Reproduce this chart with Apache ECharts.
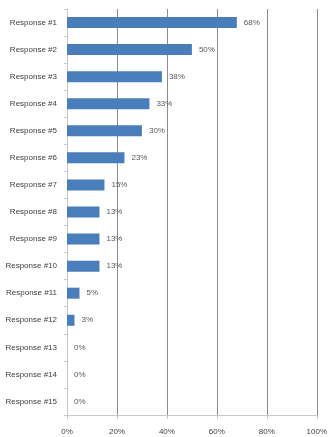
<!DOCTYPE html>
<html>
<head>
<meta charset="utf-8">
<script src="https://cdn.jsdelivr.net/npm/echarts@6/dist/echarts.min.js"></script>
<style>
  html, body { margin: 0; padding: 0; background: #fff; }
  #chart { width: 330px; height: 437px; }
</style>
</head>
<body>
<div id="chart"></div>
<script>
// Share of answers per response, in percent
const categories = [
  'Response #1', 'Response #2', 'Response #3', 'Response #4', 'Response #5',
  'Response #6', 'Response #7', 'Response #8', 'Response #9', 'Response #10',
  'Response #11', 'Response #12', 'Response #13', 'Response #14', 'Response #15'
];
const values = [68, 50, 38, 33, 30, 23, 15, 13, 13, 13, 5, 3, 0, 0, 0];
const xTicks = [0, 20, 40, 60, 80, 100];

const chart = echarts.init(document.getElementById('chart'));
chart.setOption({
  animation: false,
  grid: { left: 67, right: 9, top: 9, bottom: 22, containLabel: false },
  xAxis: {
    type: 'value',
    min: xTicks[0],
    max: xTicks[xTicks.length - 1],
    interval: xTicks[1] - xTicks[0],
    axisLine: { show: true, lineStyle: { color: '#c8c8c8', width: 1 } },
    axisTick: { show: true, length: 4, lineStyle: { color: '#c8c8c8' } },
    axisLabel: {
      formatter: v => v + '%',
      color: '#404040',
      fontFamily: 'Liberation Sans, Arial, sans-serif',
      fontSize: 8,
      margin: 13
    },
    splitLine: { show: true, lineStyle: { color: '#8c8c8c', width: 1 } }
  },
  yAxis: {
    type: 'category',
    data: categories,
    inverse: true,
    axisLine: { show: true, lineStyle: { color: '#c8c8c8', width: 1 } },
    axisTick: { show: true, length: 3, alignWithLabel: false, lineStyle: { color: '#c8c8c8' } },
    axisLabel: {
      color: '#404040',
      fontFamily: 'Liberation Sans, Arial, sans-serif',
      fontSize: 8,
      margin: 10
    },
    splitLine: { show: false }
  },
  series: [{
    type: 'bar',
    data: values,
    barWidth: 11,
    itemStyle: { color: '#4a7ebb' },
    label: {
      show: true,
      position: 'right',
      distance: 7,
      formatter: p => p.value + '%',
      color: '#595959',
      fontFamily: 'Liberation Sans, Arial, sans-serif',
      fontSize: 8
    }
  }]
});
</script>
</body>
</html>
